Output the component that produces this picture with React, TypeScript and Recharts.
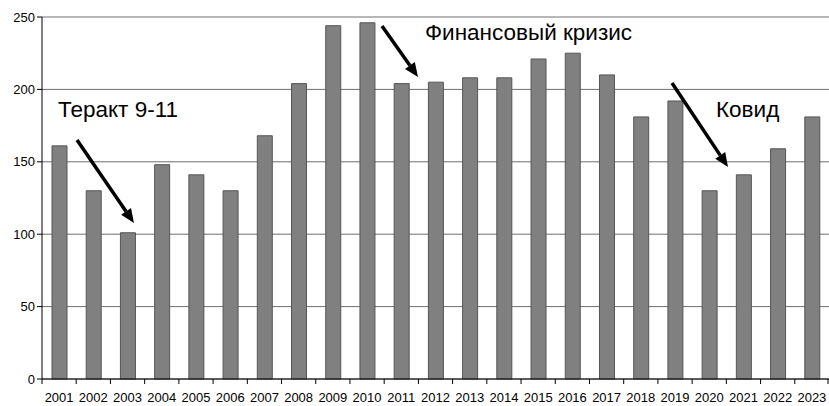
import { Bar, BarChart, CartesianGrid, XAxis, YAxis } from 'recharts';

const years = [
  '2001', '2002', '2003', '2004', '2005', '2006', '2007', '2008', '2009', '2010', '2011', '2012',
  '2013', '2014', '2015', '2016', '2017', '2018', '2019', '2020', '2021', '2022', '2023',
];
const counts = [161, 130, 101, 148, 141, 130, 168, 204, 244, 246, 204, 205, 208, 208, 221, 225, 210, 181, 192, 130, 141, 159, 181];
const yTicks = [0, 50, 100, 150, 200, 250];

const data = years.map((year, i) => ({ year, value: counts[i] }));

const W = 829;
const H = 406;
const LEFT = 42;
const PLOT_W = W - LEFT;
const BAND = PLOT_W / years.length;
const FONT = '"Liberation Sans", Arial, sans-serif';

// year labels centred, tick marks sit on the category boundaries
function YearTick(props: any) {
  const { x, y, payload, index } = props;
  const left = x - BAND / 2;
  return (
    <g>
      <line x1={left} y1={y - 8} x2={left} y2={y - 3} stroke="#000" />
      {index === years.length - 1 && (
        <line x1={x + BAND / 2 - 1} y1={y - 8} x2={x + BAND / 2 - 1} y2={y - 3} stroke="#000" />
      )}
      <text x={x} y={y + 15} textAnchor="middle" fontSize={13} fill="#000" fontFamily={FONT}>
        {payload.value}
      </text>
    </g>
  );
}

function Arrow({ x1, y1, x2, y2 }: { x1: number; y1: number; x2: number; y2: number }) {
  const ang = Math.atan2(y2 - y1, x2 - x1);
  const len = 14;
  const half = 6;
  const bx = x2 - len * Math.cos(ang);
  const by = y2 - len * Math.sin(ang);
  const px = -Math.sin(ang) * half;
  const py = Math.cos(ang) * half;
  return (
    <g>
      <line x1={x1} y1={y1} x2={bx} y2={by} stroke="#000" strokeWidth={3.5} />
      <polygon points={`${x2},${y2} ${bx + px},${by + py} ${bx - px},${by - py}`} fill="#000" />
    </g>
  );
}

export default function App() {
  return (
    <div style={{ position: 'absolute', left: 0, top: 0, width: W, height: H, background: '#fff' }}>
      <BarChart
        width={W}
        height={H}
        data={data}
        margin={{ top: 17, right: 0, bottom: 0, left: 0 }}
        barSize={15}
      >
        <CartesianGrid vertical={false} stroke="#6e6e6e" strokeWidth={1} />
        <XAxis
          dataKey="year"
          height={27}
          axisLine={{ stroke: '#000' }}
          tickLine={false}
          interval={0}
          tick={<YearTick />}
        />
        <YAxis
          width={LEFT}
          domain={[0, 250]}
          ticks={yTicks}
          axisLine={{ stroke: '#000' }}
          tickLine={{ stroke: '#000' }}
          tickSize={5}
          tick={{ fill: '#000', fontSize: 13, fontFamily: FONT }}
        />
        <Bar dataKey="value" fill="#808080" stroke="#555" strokeWidth={1} isAnimationActive={false} />
      </BarChart>
      <svg width={W} height={H} style={{ position: 'absolute', left: 0, top: 0, pointerEvents: 'none' }}>
        <text x={58} y={117} fontSize={22.5} fontFamily={FONT} fill="#000">Теракт 9-11</text>
        <text x={425} y={40} fontSize={22.5} fontFamily={FONT} fill="#000">Финансовый кризис</text>
        <text x={716} y={117} fontSize={22.5} fontFamily={FONT} fill="#000">Ковид</text>
        <Arrow x1={77} y1={140} x2={134} y2={223} />
        <Arrow x1={382} y1={26} x2={418} y2={77} />
        <Arrow x1={672} y1={83} x2={728} y2={167} />
      </svg>
    </div>
  );
}
